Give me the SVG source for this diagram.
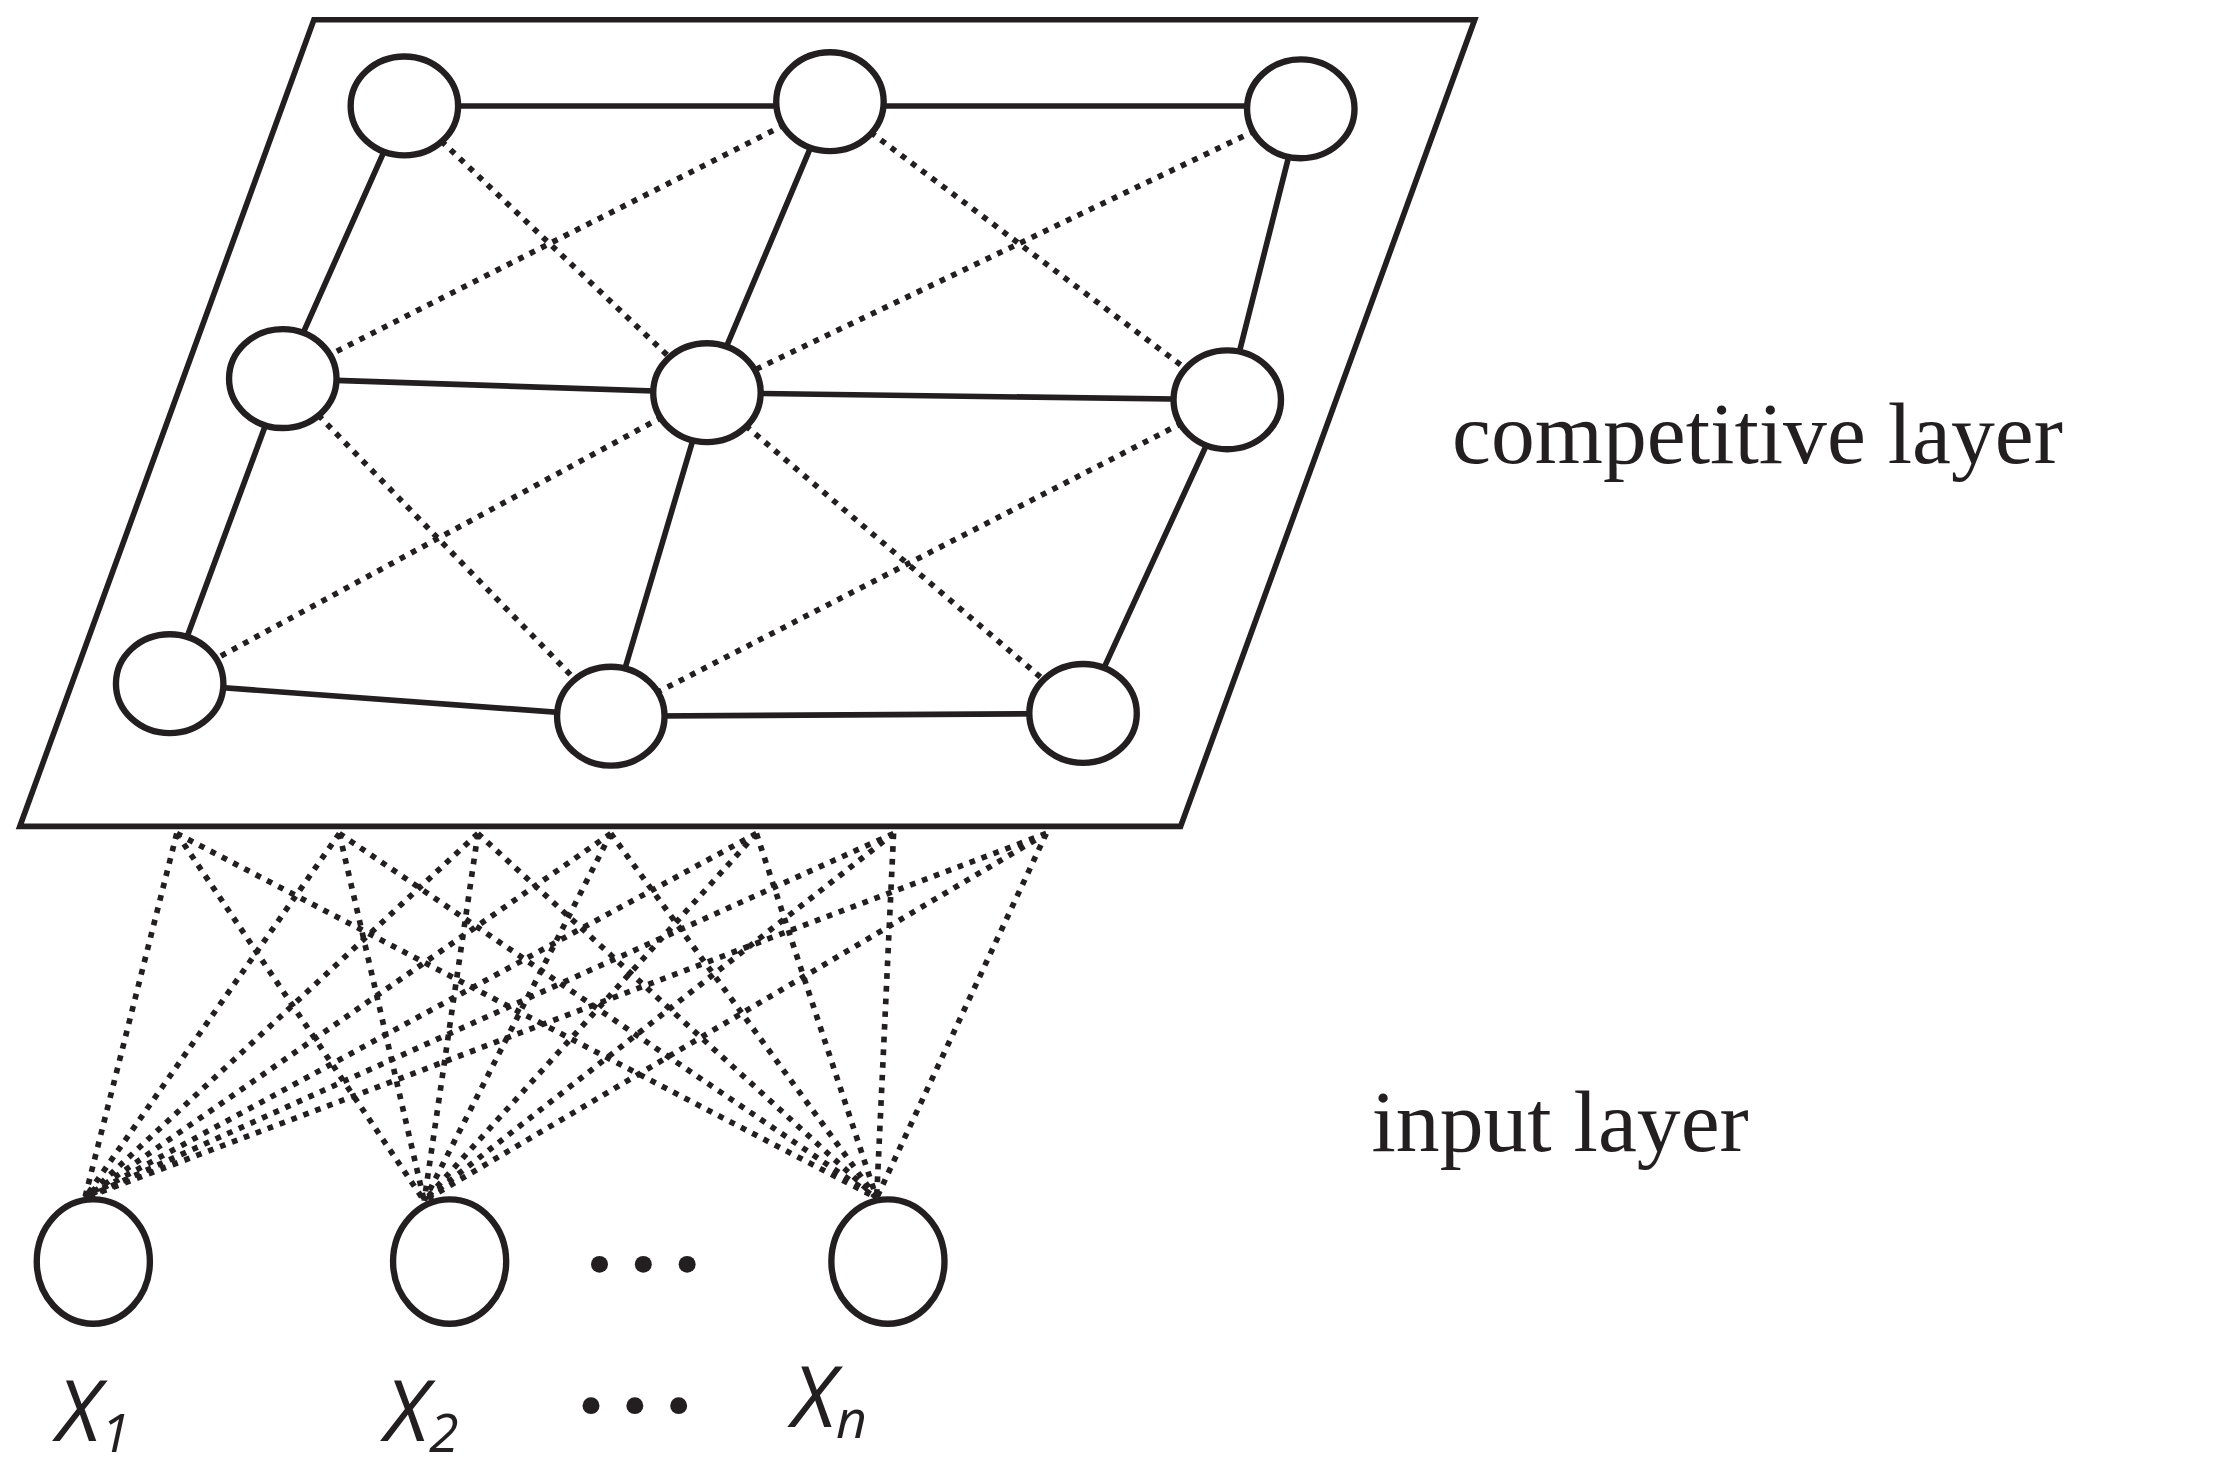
<svg xmlns="http://www.w3.org/2000/svg" width="2217" height="1465" viewBox="0 0 2217 1465">
<style>
.n{fill:#fff;stroke:#231f20;stroke-width:4.5}
.s{stroke:#231f20;stroke-width:4;fill:none}
.d{stroke:#231f20;stroke-width:4;stroke-dasharray:4 5;fill:none}
.t{font-family:"Liberation Serif",serif;font-size:62px;fill:#231f20}
.x{font-family:"Open Sans","Liberation Sans",sans-serif;font-style:italic;font-size:60px;fill:#231f20}
</style>
<rect width="2217" height="1465" fill="#fff"/>
<g transform="scale(1.4139 1.4127)">
<g id="plane"><polygon points="222,14 1043,14 835,585 14,585" class="s" stroke-width="4.5"/></g>
<g id="connectors">
<path class="s" d="M286,75H587H920M200,268L500,278L868,283M120,484L432,507L766,505M286,75L200,268L120,484M587,72L500,278L432,507M920,77L868,283L766,505"/>
<path class="d" d="M286,75L500,278M587,72L200,268M587,72L868,283M920,77L500,278M200,268L432,507M500,278L120,484M500,278L766,505M868,283L432,507"/>
<path class="d" d="M125,590L60,848M240,590L60,848M338,590L60,848M432,590L60,848M535,590L60,848M632,590L60,848M740,590L60,848
M125,590L300,850M240,590L300,850M338,590L300,850M432,590L300,850M535,590L300,850M632,590L300,850M740,590L300,850
M125,590L620,848M240,590L620,848M338,590L620,848M432,590L620,848M535,590L620,848M632,590L620,848M740,590L620,848"/>
</g>
<g id="g1"><ellipse class="n" cx="286" cy="75" rx="38" ry="35"/></g>
<g id="g2"><ellipse class="n" cx="587" cy="72" rx="38" ry="35"/></g>
<g id="g3"><ellipse class="n" cx="920" cy="77" rx="38" ry="35"/></g>
<g id="g4"><ellipse class="n" cx="200" cy="268" rx="38" ry="35"/></g>
<g id="g5"><ellipse class="n" cx="500" cy="278" rx="38" ry="35"/></g>
<g id="g6"><ellipse class="n" cx="868" cy="283" rx="38" ry="35"/></g>
<g id="g7"><ellipse class="n" cx="120" cy="484" rx="38" ry="35"/></g>
<g id="g8"><ellipse class="n" cx="432" cy="507" rx="38" ry="35"/></g>
<g id="g9"><ellipse class="n" cx="766" cy="505" rx="38" ry="35"/></g>
<g id="i1"><ellipse class="n" cx="66" cy="893" rx="40" ry="44"/></g>
<g id="i2"><ellipse class="n" cx="318" cy="893" rx="40" ry="44"/></g>
<g id="i3"><ellipse class="n" cx="628" cy="893" rx="40" ry="44"/></g>
<text class="t" x="1027" y="328">competitive layer</text>
<text class="t" x="970" y="815">input layer</text>
<g fill="#231f20"><circle cx="424" cy="895" r="6"/><circle cx="455" cy="895" r="6"/><circle cx="486" cy="895" r="6"/>
<circle cx="418" cy="995" r="6"/><circle cx="449" cy="995" r="6"/><circle cx="480" cy="995" r="6"/></g>
<text class="x" x="40" y="1020">X<tspan font-size="38" dy="8">1</tspan></text>
<text class="x" x="272" y="1020">X<tspan font-size="38" dy="8">2</tspan></text>
<text class="x" x="560" y="1010">X<tspan font-size="38" dy="8">n</tspan></text>
</g>
</svg>
